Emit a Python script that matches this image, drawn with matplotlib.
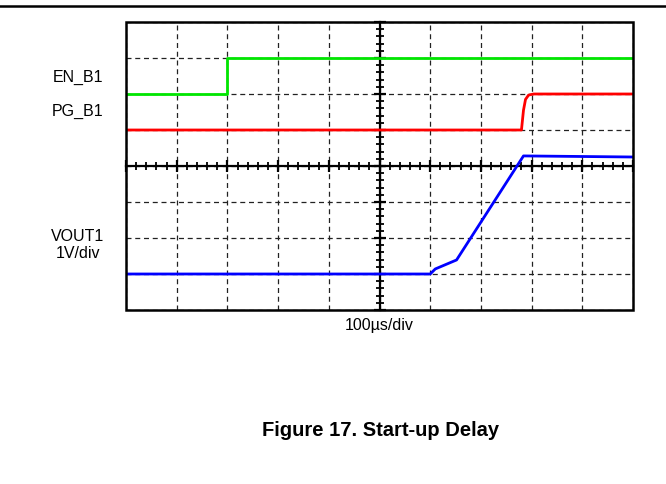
import numpy as np
import matplotlib
matplotlib.use('Agg')
import matplotlib.pyplot as plt
from matplotlib.lines import Line2D
from matplotlib.patches import Rectangle

plt.rcParams['font.family'] = ['Liberation Sans', 'DejaVu Sans']

# time in microseconds, levels in scope divisions
en_t = [-500, -300, -300, 500]
en_v = [2.0, 2.0, 3.0, 3.0]

pg_t = [-500, 280, 284, 288, 294, 304, 500]
pg_v = [1.0, 1.0, 1.55, 1.85, 1.97, 2.0, 2.0]

vout_t = [-500, 100, 110, 152, 284, 500]
vout_v = [-3.0, -3.0, -2.86, -2.61, 0.28, 0.25]

labels = [("EN_B1", 77.5), ("PG_B1", 111), ("VOUT1\n1V/div", 245)]

fig = plt.figure(figsize=(6.66, 4.85), dpi=100)
ax = fig.add_axes([126 / 666, 1 - 311 / 485, 507 / 666, 288 / 485])
ax.set_xlim(-500, 500)
ax.set_ylim(-4, 4)

# center crosshair with minor ticks
for s in ['top', 'right']:
    ax.spines[s].set_visible(False)
ax.spines['left'].set_position(('data', 0))
ax.spines['bottom'].set_position(('data', 0))
ax.spines['left'].set_linewidth(1.6)
ax.spines['bottom'].set_linewidth(1.6)
ax.set_xticks(np.arange(-500, 501, 100))
ax.set_xticks(np.arange(-500, 501, 20), minor=True)
ax.set_yticks(np.arange(-4, 5, 1))
ax.set_yticks(np.arange(-4, 4.01, 0.2), minor=True)
ax.tick_params(which='major', direction='inout', length=8, width=1.6,
               labelbottom=False, labelleft=False)
ax.tick_params(which='minor', direction='inout', length=6, width=1.3)
ax.grid(True, which='major', color='#222222', linestyle=(0, (4, 3)), linewidth=0.9)

# outer frame
ax.add_patch(Rectangle((0, 0), 1, 1, transform=ax.transAxes, fill=False,
                       edgecolor='black', linewidth=1.8, clip_on=False, zorder=5))

ax.plot(en_t, en_v, color='#00e600', linewidth=2, zorder=4)
ax.plot(pg_t, pg_v, color='#ff0000', linewidth=2, zorder=4)
ax.plot(vout_t, vout_v, color='#0000ff', linewidth=2, zorder=4)

for txt, py in labels:
    fig.text(78 / 666, 1 - py / 485, txt, ha='center', va='center',
             fontsize=11.5, linespacing=1.1)

fig.text(379 / 666, 1 - 325.5 / 485, "100µs/div", ha='center', va='center', fontsize=11.5)
fig.text(381 / 666, 1 - 431 / 485, "Figure 17. Start-up Delay", ha='center', va='center',
         fontsize=14.5, fontweight='bold')

fig.add_artist(Line2D([0, 1], [1 - 7 / 485, 1 - 7 / 485], color='black', linewidth=1.8))

fig.savefig('out.png', dpi=100)
